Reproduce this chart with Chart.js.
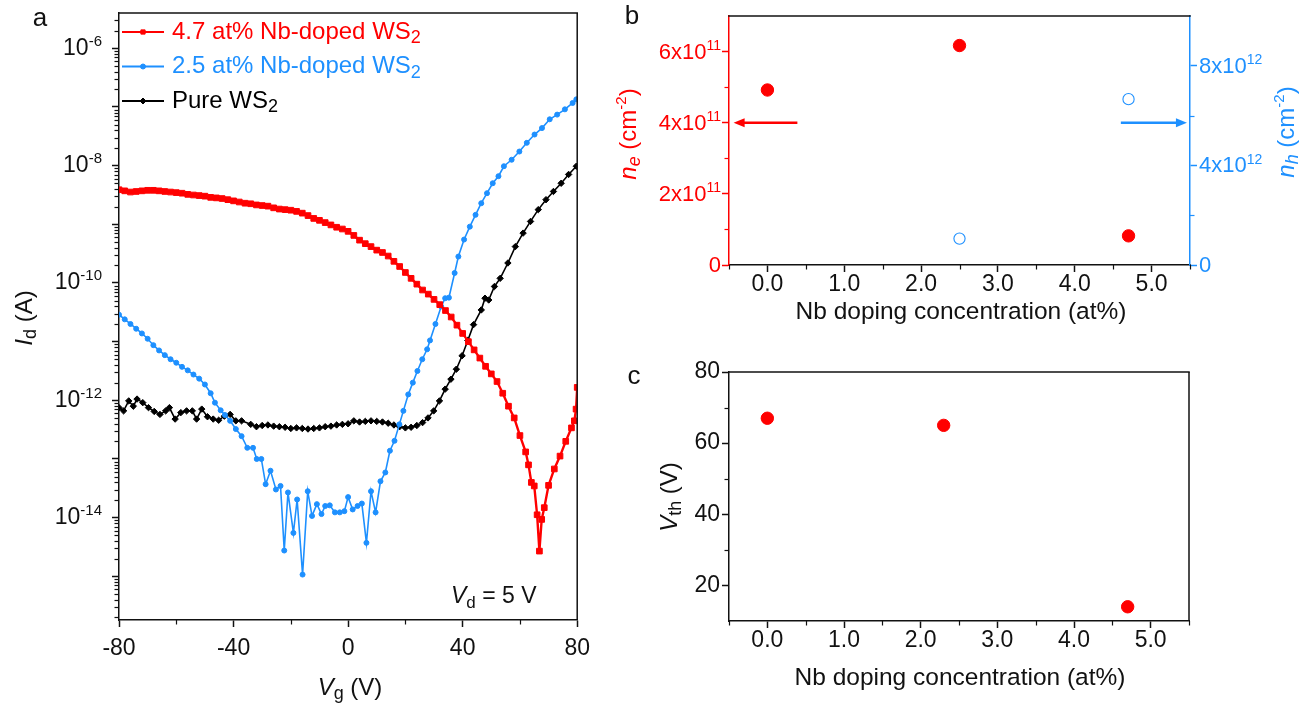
<!DOCTYPE html>
<html>
<head>
<meta charset="utf-8">
<script src="https://cdn.jsdelivr.net/npm/chart.js@4.4.1/dist/chart.umd.min.js"></script>
<style>
  html, body { margin: 0; padding: 0; background: #fff; }
  body { width: 1312px; height: 709px; position: relative; overflow: hidden; }
  canvas { position: absolute; }
</style>
</head>
<body>
<canvas id="panelA" width="600" height="709" style="left:0;top:0"></canvas>
<canvas id="panelB" width="712" height="330" style="left:600px;top:0"></canvas>
<canvas id="panelC" width="712" height="379" style="left:600px;top:330px"></canvas>
<script>
// ---- (a) transfer curves, Id vs Vg at Vd = 5 V ----
const redVg = [
  -80, -78, -76, -74, -72, -70, -68, -66, -64, -62,
  -60, -58, -56, -54, -52, -50, -48, -46, -44, -42,
  -40, -38, -36, -34, -32, -30, -28, -26, -24, -22,
  -20, -18, -16, -14, -12, -10, -8, -6, -4, -2,
  0, 2, 4, 6, 8, 10, 12, 14, 16, 18,
  20, 22, 24, 26, 28, 30, 32, 34, 36, 38,
  40, 42, 44, 46, 48, 50, 52, 54, 56, 58,
  60, 62, 63, 64, 65, 66, 66.8, 67.6, 68.5, 70,
  72, 74, 76, 78, 79, 79.6, 80
];
const redId = [
  3.89e-9, 3.72e-9, 3.55e-9, 3.63e-9, 3.72e-9, 3.80e-9, 3.80e-9, 3.72e-9, 3.63e-9, 3.55e-9,
  3.47e-9, 3.39e-9, 3.24e-9, 3.16e-9, 3.09e-9, 3.02e-9, 2.88e-9, 2.82e-9, 2.75e-9, 2.63e-9,
  2.51e-9, 2.40e-9, 2.29e-9, 2.24e-9, 2.14e-9, 2.09e-9, 2.04e-9, 1.91e-9, 1.82e-9, 1.78e-9,
  1.74e-9, 1.66e-9, 1.55e-9, 1.41e-9, 1.26e-9, 1.17e-9, 1.07e-9, 9.77e-10, 8.91e-10, 8.32e-10,
  7.59e-10, 6.46e-10, 5.37e-10, 4.68e-10, 4.17e-10, 3.63e-10, 3.31e-10, 2.88e-10, 2.34e-10, 1.91e-10,
  1.51e-10, 1.20e-10, 9.55e-11, 7.59e-11, 6.46e-11, 5.25e-11, 4.27e-11, 3.39e-11, 2.63e-11, 1.91e-11,
  1.38e-11, 1.0e-11, 7.24e-12, 5.25e-12, 3.80e-12, 2.82e-12, 2.09e-12, 1.32e-12, 7.94e-13, 5.01e-13,
  2.51e-13, 1.32e-13, 7.94e-14, 3.98e-14, 3.47e-14, 1.12e-14, 2.69e-15, 9.33e-15, 1.48e-14, 3.55e-14,
  6.76e-14, 1.12e-13, 2.0e-13, 3.39e-13, 4.47e-13, 7.08e-13, 1.66e-12
];
const blueVg = [
  -80, -78, -76, -74, -72, -70, -68, -66, -64, -62,
  -60, -58, -56, -54, -52, -50, -48, -46.5, -44.5, -43,
  -41.2, -39.2, -37.2, -35.2, -33.2, -31.9, -30.3, -28.8, -27.1, -25.2,
  -23.6, -22.3, -21.0, -19.1, -17.8, -15.9, -14.1, -12.6, -10.9, -9.3,
  -8.0, -6.4, -4.6, -2.9, -1.3, 0, 1.6, 3.3, 4.8, 6.4,
  8.0, 9.6, 11.3, 13.0, 14.6, 16.2, 17.9, 19.3, 21.0, 22.6,
  24.2, 25.9, 27.6, 28.6, 30.5, 32.5, 33.9, 35.2, 37.2, 38.5,
  40.5, 42.5, 44.5, 46.5, 48.5, 50.5, 52.5, 54.4, 57.1, 59.8,
  62.4, 65.1, 67.7, 70.4, 73.0, 75.7, 78.4, 79.7
];
const blueId = [
  2.88e-11, 2.40e-11, 2.00e-11, 1.66e-11, 1.38e-11, 1.12e-11, 8.71e-12, 7.08e-12, 5.89e-12, 5.01e-12,
  4.37e-12, 3.72e-12, 3.24e-12, 2.75e-12, 2.34e-12, 1.86e-12, 1.32e-12, 9.12e-13, 6.76e-13, 5.62e-13,
  4.47e-13, 3.24e-13, 2.45e-13, 1.55e-13, 1.55e-13, 1.0e-13, 1.0e-13, 3.72e-14, 6.31e-14, 3.02e-14,
  3.47e-14, 2.75e-15, 2.69e-14, 5.50e-15, 2.04e-14, 1.07e-15, 2.82e-14, 1.07e-14, 1.70e-14, 1.15e-14,
  1.58e-14, 1.62e-14, 1.23e-14, 1.23e-14, 1.29e-14, 2.24e-14, 1.38e-14, 1.58e-14, 1.74e-14, 3.72e-15,
  2.82e-14, 1.23e-14, 4.17e-14, 5.89e-14, 1.38e-13, 2.04e-13, 3.89e-13, 6.61e-13, 1.26e-12, 2.0e-12,
  3.16e-12, 5.01e-12, 7.41e-12, 1.05e-11, 2.0e-11, 3.98e-11, 5.50e-11, 5.62e-11, 1.48e-10, 2.82e-10,
  5.50e-10, 9.12e-10, 1.45e-9, 2.29e-9, 3.39e-9, 5.01e-9, 6.61e-9, 9.77e-9, 1.26e-8, 1.74e-8,
  2.45e-8, 3.39e-8, 4.37e-8, 6.17e-8, 7.41e-8, 9.12e-8, 1.17e-7, 1.35e-7
];
const blackVg = [
  -80, -78.4, -76.6, -75, -73.7, -71.7, -69.7, -67.7, -65.7, -63.7,
  -62.4, -60.4, -58.4, -56.4, -54.4, -52.9, -51.1, -49.1, -47.1, -45.2,
  -43.2, -41.2, -39.2, -37.2, -34, -32, -30, -28, -26, -24,
  -22, -20, -18, -16, -14, -12, -10, -8, -6, -4,
  -2, 0, 2, 4, 6, 8, 10, 12, 14, 16,
  18, 20, 22, 24, 26, 27.9, 29.9, 31.9, 33.9, 35.9,
  37.8, 39.8, 41.8, 43.8, 46.5, 47.8, 49.1, 51.1, 53.1, 55.8,
  58.4, 61.1, 63.7, 66.4, 69.1, 71.7, 74.4, 77.0, 79.7
];
const blackId = [
  7.50e-13, 6.61e-13, 9.77e-13, 7.94e-13, 1.05e-12, 9.12e-13, 7.50e-13, 6.46e-13, 5.75e-13, 6.61e-13,
  7.50e-13, 4.79e-13, 6.17e-13, 6.61e-13, 6.61e-13, 4.79e-13, 7.08e-13, 5.25e-13, 4.79e-13, 4.57e-13,
  5.37e-13, 5.75e-13, 4.47e-13, 4.47e-13, 3.89e-13, 3.55e-13, 3.72e-13, 3.80e-13, 3.63e-13, 3.55e-13,
  3.47e-13, 3.31e-13, 3.39e-13, 3.31e-13, 3.24e-13, 3.31e-13, 3.39e-13, 3.55e-13, 3.63e-13, 3.80e-13,
  3.89e-13, 3.98e-13, 4.47e-13, 4.27e-13, 4.37e-13, 4.47e-13, 4.37e-13, 4.27e-13, 4.07e-13, 3.80e-13,
  3.55e-13, 3.39e-13, 3.47e-13, 3.72e-13, 4.17e-13, 5.01e-13, 6.61e-13, 9.77e-13, 1.55e-12, 2.29e-12,
  3.39e-12, 5.75e-12, 1.05e-11, 1.95e-11, 3.47e-11, 5.50e-11, 5.13e-11, 8.71e-11, 1.20e-10, 2.19e-10,
  4.17e-10, 7.08e-10, 1.12e-9, 1.78e-9, 2.63e-9, 3.63e-9, 5.01e-9, 7.08e-9, 9.77e-9
];
const vgTicks = [-80, -40, 0, 40, 80];
const vgMinor = [-60, -20, 20, 60];
const idRange = [1.8e-16, 4e-6];
const idDecades = [-15, -14, -13, -12, -11, -10, -9, -8, -7, -6];
const idLabelled = [-14, -12, -10, -8, -6];

// ---- (b) carrier densities vs Nb content ----
const dopingNe = [0, 2.5, 4.7];
const neValues = [4.92e11, 6.17e11, 0.82e11];
const dopingNh = [2.5, 4.7];
const nhValues = [1.06e12, 6.66e12];
const neTicks = [0, 2e11, 4e11, 6e11];
const neMinor = [1e11, 3e11, 5e11];
const nhTicks = [0, 4e12, 8e12];
const nhMinor = [2e12, 6e12];
const neArrow = [0.39, -0.44];
const nhArrow = [4.6, 5.46];
const arrowLevel = 4e11;

// ---- (c) threshold voltage vs Nb content ----
const dopingVth = [0, 2.3, 4.7];
const vthValues = [67, 65, 14];
const vthTicks = [20, 40, 60, 80];
const vthMinor = [30, 50, 70];

const dopTicks = [0, 1, 2, 3, 4, 5];
const dopMinor = [-0.5, 0.5, 1.5, 2.5, 3.5, 4.5, 5.5];

const legendNames = [
  [{ t: '4.7 at% Nb-doped WS' }, { t: '2', sub: 1 }],
  [{ t: '2.5 at% Nb-doped WS' }, { t: '2', sub: 1 }],
  [{ t: 'Pure WS' }, { t: '2', sub: 1 }]
];

const SANS = '"Liberation Sans", Arial, Helvetica, sans-serif';
const RED = '#ff0000';
const BLUE = '#1e90ff';
const INK = '#111111';
Chart.defaults.font.family = SANS;
Chart.defaults.color = INK;

const pairs = (xs, ys) => xs.map((x, i) => ({ x: x, y: ys[i] }));

// text with italic / sub / superscript pieces
function richFont(p, size) {
  const s = p.sub ? Math.round(size * 0.74) : p.sup ? Math.round(size * 0.64) : size;
  return (p.i ? 'italic ' : '') + s + 'px ' + SANS;
}
function richText(ctx, parts, x, y, o) {
  const size = o.size || 22;
  ctx.save();
  ctx.translate(x, y);
  if (o.rot) ctx.rotate(o.rot);
  ctx.fillStyle = o.color || INK;
  ctx.textBaseline = 'middle';
  ctx.textAlign = 'left';
  let w = 0;
  parts.forEach(p => { ctx.font = richFont(p, size); w += ctx.measureText(p.t).width; });
  let cx = o.align === 'center' ? -w / 2 : o.align === 'right' ? -w : 0;
  parts.forEach(p => {
    ctx.font = richFont(p, size);
    const dy = p.sub ? size * 0.27 : p.sup ? -size * 0.3 : 0;
    ctx.fillText(p.t, cx, dy);
    cx += ctx.measureText(p.t).width;
  });
  ctx.restore();
}

const powLabel = v => [{ t: '10' }, { t: String(Math.round(Math.log10(v))), sup: 1 }];
const sciLabel = e => v => v === 0 ? [{ t: '0' }] : [{ t: Math.round(v / 10 ** e) + 'x10' }, { t: String(e), sup: 1 }];

// frame lines, minor ticks, formatted labels and free text on top of a chart
function decor(spec) {
  return {
    id: 'decor',
    afterDraw(chart) {
      const ctx = chart.ctx, a = chart.chartArea;
      ctx.save();
      ctx.lineWidth = 1.5;
      (spec.frame || []).forEach(f => {
        ctx.strokeStyle = f.color;
        ctx.beginPath();
        if (f.side === 'top') { ctx.moveTo(a.left - 0.75, a.top); ctx.lineTo(a.right + 0.75, a.top); }
        else { ctx.moveTo(a.right, a.top); ctx.lineTo(a.right, a.bottom); }
        ctx.stroke();
      });
      (spec.minor || []).forEach(m => {
        const s = chart.scales[m.scale];
        ctx.strokeStyle = m.color || INK;
        ctx.lineWidth = 1.2;
        m.values.forEach(v => {
          const p = Math.round(s.getPixelForValue(v)) + 0.5;
          ctx.beginPath();
          if (s.position === 'bottom') { ctx.moveTo(p, a.bottom); ctx.lineTo(p, a.bottom + 4.5); }
          else if (s.position === 'left') { ctx.moveTo(a.left, p); ctx.lineTo(a.left - 4.5, p); }
          else { ctx.moveTo(a.right, p); ctx.lineTo(a.right + 4.5, p); }
          ctx.stroke();
        });
      });
      (spec.labels || []).forEach(l => {
        const s = chart.scales[l.scale];
        const left = s.position === 'left';
        l.values.forEach(v => {
          const x = left ? a.left - l.gap : a.right + l.gap;
          richText(ctx, l.format(v), x, s.getPixelForValue(v) + (l.dy || 0),
            { size: l.size, color: l.color, align: left ? 'right' : 'left' });
        });
      });
      (spec.texts || []).forEach(t => richText(ctx, t.parts, t.x, t.y, t));
      if (spec.extra) spec.extra(chart, ctx);
      ctx.restore();
    }
  };
}

const tickFont = { family: SANS, size: 23, lineHeight: 1 };
const axisGrid = color => ({ drawOnChartArea: false, tickLength: 7, tickWidth: 1.5, tickColor: color, color: color });
const axisBorder = color => ({ color: color, width: 1.5 });
const fixedTicks = list => s => { s.ticks = list.map(v => ({ value: v })); };

// ---------- panel a ----------
const idMinor = [];
for (let e = -16; e <= -6; e++) {
  for (let k = 2; k <= 9; k++) {
    const v = k * 10 ** e;
    if (v > idRange[0] && v < idRange[1]) idMinor.push(v);
  }
}

new Chart(document.getElementById('panelA'), {
  type: 'line',
  data: {
    datasets: [
      { data: pairs(redVg, redId), borderColor: RED, backgroundColor: RED, borderWidth: 2.4,
        pointStyle: 'rect', pointRadius: 4, pointBorderWidth: 1, pointBorderColor: RED, pointBackgroundColor: RED },
      { data: pairs(blueVg, blueId), borderColor: BLUE, backgroundColor: BLUE, borderWidth: 1.6,
        pointStyle: 'circle', pointRadius: 2.5, pointBorderWidth: 1, pointBorderColor: BLUE, pointBackgroundColor: BLUE },
      { data: pairs(blackVg, blackId), borderColor: '#000', backgroundColor: '#000', borderWidth: 1.6,
        pointStyle: 'rectRot', pointRadius: 3.2, pointBorderWidth: 1, pointBorderColor: '#000', pointBackgroundColor: '#000' }
    ]
  },
  options: {
    responsive: false, animation: false, events: [],
    layout: { padding: { left: 0, right: 21, top: 13, bottom: 0 } },
    plugins: { legend: { display: false }, tooltip: { enabled: false } },
    scales: {
      x: {
        type: 'linear', min: -80, max: 80,
        afterBuildTicks: fixedTicks(vgTicks),
        afterFit: s => { s.height = 89; },
        ticks: { font: tickFont, color: INK, padding: 10, maxRotation: 0, autoSkip: false },
        grid: axisGrid(INK), border: axisBorder(INK)
      },
      y: {
        type: 'logarithmic', min: idRange[0], max: idRange[1],
        afterBuildTicks: fixedTicks(idDecades.map(e => 10 ** e)),
        afterFit: s => { s.width = 119; },
        ticks: { display: false },
        grid: axisGrid(INK), border: axisBorder(INK)
      }
    }
  },
  plugins: [decor({
    frame: [{ side: 'top', color: INK }, { side: 'right', color: INK }],
    minor: [{ scale: 'x', values: vgMinor }, { scale: 'y', values: idMinor }],
    labels: [{ scale: 'y', values: idLabelled.map(e => 10 ** e), format: powLabel, gap: 17, size: 23, dy: 0, color: INK }],
    texts: [
      { parts: [{ t: 'a' }], x: 40, y: 19, size: 26, align: 'center' },
      { parts: [{ t: 'I', i: 1 }, { t: 'd', sub: 1 }, { t: ' (A)' }], x: 25, y: 318, size: 24, align: 'center', rot: -Math.PI / 2 },
      { parts: [{ t: 'V', i: 1 }, { t: 'g', sub: 1 }, { t: ' (V)' }], x: 350, y: 688, size: 24, align: 'center' },
      { parts: [{ t: 'V', i: 1 }, { t: 'd', sub: 1 }, { t: ' = 5 V' }], x: 451, y: 597, size: 23, align: 'left' }
    ],
    extra: (chart, ctx) => {
      // legend: line sample with one marker, then the name in the series colour
      chart.data.datasets.forEach((ds, i) => {
        const y = 32 + i * 34.5;
        ctx.strokeStyle = ds.borderColor;
        ctx.fillStyle = ds.borderColor;
        ctx.lineWidth = 2;
        ctx.beginPath();
        ctx.moveTo(122, y);
        ctx.lineTo(164, y);
        ctx.stroke();
        ctx.lineWidth = 1;
        Chart.helpers.drawPoint(ctx, { pointStyle: ds.pointStyle, radius: Math.min(ds.pointRadius, 3), borderWidth: 1, rotation: 0 }, 143, y);
        richText(ctx, legendNames[i], 172, y, { size: 24, color: ds.borderColor, align: 'left' });
      });
    }
  })]
});

// ---------- panel b ----------
const dopX = {
  type: 'linear', min: -0.5, max: 5.5,
  afterBuildTicks: fixedTicks(dopTicks),
  ticks: { font: tickFont, color: INK, padding: 1, maxRotation: 0, autoSkip: false, callback: v => Number(v).toFixed(1) },
  grid: axisGrid(INK), border: axisBorder(INK)
};

function arrow(ctx, x0, x1, y, color) {
  const dir = Math.sign(x1 - x0);
  ctx.strokeStyle = color;
  ctx.fillStyle = color;
  ctx.lineWidth = 2.6;
  ctx.beginPath();
  ctx.moveTo(x0, y);
  ctx.lineTo(x1 - dir * 8, y);
  ctx.stroke();
  ctx.beginPath();
  ctx.moveTo(x1, y);
  ctx.lineTo(x1 - dir * 11, y - 4.5);
  ctx.lineTo(x1 - dir * 11, y + 4.5);
  ctx.closePath();
  ctx.fill();
}

new Chart(document.getElementById('panelB'), {
  type: 'scatter',
  data: {
    datasets: [
      { data: pairs(dopingNe, neValues), yAxisID: 'y', pointRadius: 6.2, pointBackgroundColor: RED, pointBorderColor: RED, pointBorderWidth: 1 },
      { data: pairs(dopingNh, nhValues), yAxisID: 'y2', pointRadius: 5.6, pointBackgroundColor: 'rgba(255,255,255,0)', pointBorderColor: BLUE, pointBorderWidth: 1.1 }
    ]
  },
  options: {
    responsive: false, animation: false, events: [],
    layout: { padding: { left: 0, right: 0, top: 16, bottom: 0 } },
    plugins: { legend: { display: false }, tooltip: { enabled: false } },
    scales: {
      x: Object.assign({}, dopX, { afterFit: s => { s.height = 65; } }),
      y: {
        type: 'linear', position: 'left', min: 0, max: 7e11,
        afterBuildTicks: fixedTicks(neTicks),
        afterFit: s => { s.width = 129; },
        ticks: { display: false },
        grid: axisGrid(RED), border: axisBorder(RED)
      },
      y2: {
        type: 'linear', position: 'right', min: 0, max: 1e13,
        afterBuildTicks: fixedTicks(nhTicks),
        afterFit: s => { s.width = 122; },
        ticks: { display: false },
        grid: axisGrid(BLUE), border: axisBorder(BLUE)
      }
    }
  },
  plugins: [decor({
    frame: [{ side: 'top', color: INK }],
    minor: [
      { scale: 'x', values: dopMinor },
      { scale: 'y', values: neMinor, color: RED },
      { scale: 'y2', values: nhMinor, color: BLUE }
    ],
    labels: [
      { scale: 'y', values: neTicks, format: sciLabel(11), gap: 8, size: 22, dy: 1, color: RED },
      { scale: 'y2', values: nhTicks, format: sciLabel(12), gap: 9, size: 22, dy: 1, color: BLUE }
    ],
    texts: [
      { parts: [{ t: 'b' }], x: 32, y: 17, size: 26, align: 'center' },
      { parts: [{ t: 'n', i: 1 }, { t: 'e', i: 1, sub: 1 }, { t: ' (cm' }, { t: '-2', sup: 1 }, { t: ')' }],
        x: 29, y: 134, size: 24, align: 'center', rot: -Math.PI / 2, color: RED },
      { parts: [{ t: 'n', i: 1 }, { t: 'h', i: 1, sub: 1 }, { t: ' (cm' }, { t: '-2', sup: 1 }, { t: ')' }],
        x: 687, y: 132, size: 24, align: 'center', rot: -Math.PI / 2, color: BLUE },
      { parts: [{ t: 'Nb doping concentration (at%)' }], x: 361, y: 312, size: 24.5, align: 'center' }
    ],
    extra: (chart, ctx) => {
      const sx = chart.scales.x, sy = chart.scales.y;
      const y = sy.getPixelForValue(arrowLevel);
      arrow(ctx, sx.getPixelForValue(neArrow[0]), sx.getPixelForValue(neArrow[1]), y, RED);
      arrow(ctx, sx.getPixelForValue(nhArrow[0]), sx.getPixelForValue(nhArrow[1]), y, BLUE);
    }
  })]
});

// ---------- panel c ----------
new Chart(document.getElementById('panelC'), {
  type: 'scatter',
  data: {
    datasets: [
      { data: pairs(dopingVth, vthValues), pointRadius: 6.2, pointBackgroundColor: RED, pointBorderColor: RED, pointBorderWidth: 1 }
    ]
  },
  options: {
    responsive: false, animation: false, events: [],
    layout: { padding: { left: 0, right: 123, top: 42, bottom: 0 } },
    plugins: { legend: { display: false }, tooltip: { enabled: false } },
    scales: {
      x: Object.assign({}, dopX, { afterFit: s => { s.height = 88; } }),
      y: {
        type: 'linear', min: 10, max: 80,
        afterBuildTicks: fixedTicks(vthTicks),
        afterFit: s => { s.width = 129; },
        ticks: { font: tickFont, color: INK, padding: 2 },
        grid: axisGrid(INK), border: axisBorder(INK)
      }
    }
  },
  plugins: [decor({
    frame: [{ side: 'top', color: INK }, { side: 'right', color: INK }],
    minor: [{ scale: 'x', values: dopMinor }, { scale: 'y', values: vthMinor }],
    texts: [
      { parts: [{ t: 'c' }], x: 34, y: 47, size: 26, align: 'center' },
      { parts: [{ t: 'V', i: 1 }, { t: 'th', sub: 1 }, { t: ' (V)' }], x: 70, y: 167, size: 24, align: 'center', rot: -Math.PI / 2 },
      { parts: [{ t: 'Nb doping concentration (at%)' }], x: 360, y: 348, size: 24.5, align: 'center' }
    ]
  })]
});
</script>
</body>
</html>
